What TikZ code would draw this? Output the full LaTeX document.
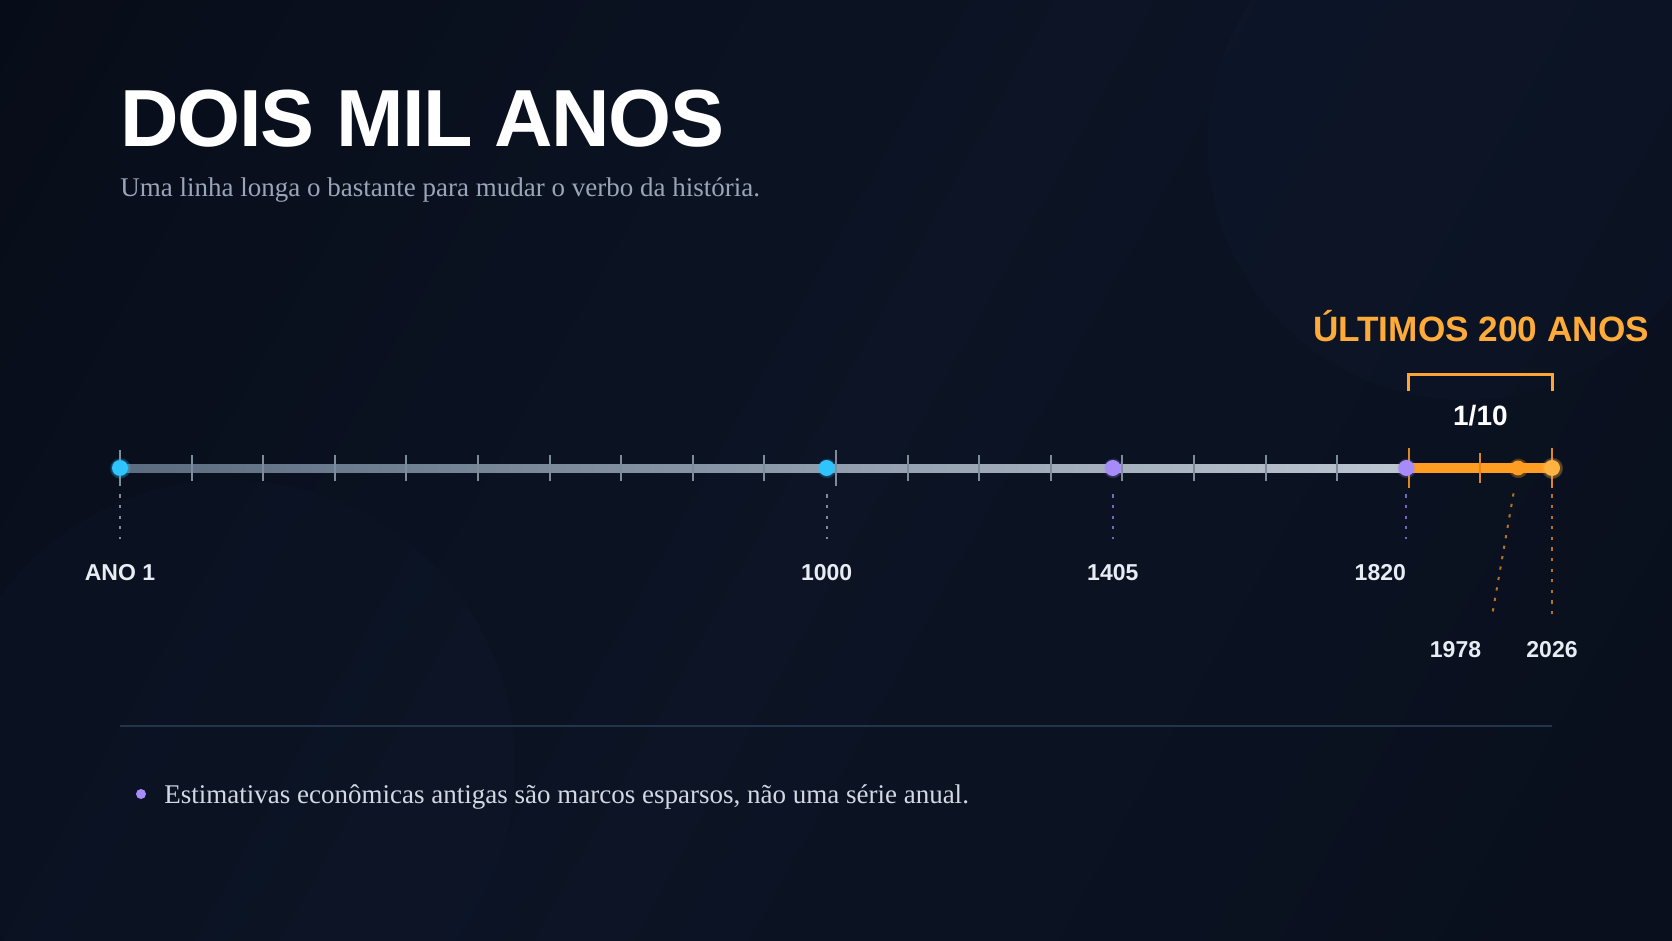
\documentclass[tikz,border=0pt]{standalone}
\usepackage{fontspec}
\setmainfont{Liberation Serif}
\newfontfamily\headfont{Liberation Sans}
\usetikzlibrary{positioning, shadows, fadings}
\definecolor{bgdark}{HTML}{050912}
\definecolor{bgmid}{HTML}{0C1425}
\definecolor{bgend}{HTML}{070C17}
\definecolor{blob}{HTML}{13203A}
\definecolor{subtext}{HTML}{9AA5B8}
\definecolor{notetext}{HTML}{D3D9E3}
\definecolor{labeltext}{HTML}{E8EDF4}
\definecolor{axisleft}{HTML}{5B6B80}
\definecolor{axisright}{HTML}{BCC6D1}
\definecolor{tickgray}{HTML}{7D8B9C}
\definecolor{accent}{HTML}{FF9D22}
\definecolor{accentdark}{HTML}{DE8620}
\definecolor{accenttext}{HTML}{FFAB3A}
\definecolor{dotcyan}{HTML}{2EC5FF}
\definecolor{dotviolet}{HTML}{A78BFA}
\definecolor{dotgold}{HTML}{FFB442}
\definecolor{sepline}{HTML}{24344A}
\pgfdeclarehorizontalshading{bgshade}{100bp}{color(0bp)=(bgdark); color(50bp)=(bgmid); color(100bp)=(bgend)}
\tikzstyle{dot} = [circle, inner sep=0pt, minimum size=8pt]
\tikzstyle{yearlabel} = [anchor=base, inner sep=0pt, text=labeltext, font=\headfont\bfseries\fontsize{11.5}{13}\selectfont]
\tikzstyle{dropline} = [line width=1pt, dash pattern=on 1.6pt off 3.7pt, shorten <=9pt]
\tikzstyle{tick} = [line width=1pt, tickgray]
\tikzstyle{atick} = [line width=1pt, accentdark]

\begin{document}
\begin{tikzpicture}[x=0.5pt, y=-0.5pt]
\useasboundingbox (0,0) rectangle (1672,941);
% Background
\shade[shading=bgshade, shading angle=-29] (0,0) rectangle (1672,941);
\fill[blob, opacity=0.18] (1465,143) circle (257);
\fill[blob, opacity=0.15] (230,765) circle (285);

% Heading
\node (title) [anchor=base west, inner sep=0pt, text=white, font=\headfont\bfseries\fontsize{40.5}{44}\selectfont\addfontfeature{LetterSpace=-1.5}] at (120,147) {DOIS MIL ANOS};
\node (subtitle) [anchor=base west, inner sep=0pt, text=subtext, font=\fontsize{13.5}{15}\selectfont] at (120,197) {Uma linha longa o bastante para mudar o verbo da história.};

% Axis
\fill[left color=axisleft, right color=axisright] (120,464) rectangle (1406,472);
\fill[accent] (1406,462.5) rectangle (1552,473);
\foreach \k in {1,...,9,11,12,...,17}
  \draw[tick] (120+\k*71.6,455) -- (120+\k*71.6,481);
\foreach \k in {0,10}
  \draw[tick] (120+\k*71.6,450) -- (120+\k*71.6,486);
\foreach \k in {18,20}
  \draw[atick] (120+\k*71.6,448.5) -- (120+\k*71.6,487.5);
\draw[atick] (1480.4,453) -- (1480.4,483);

% Milestones
\node (d1) [dot, fill=dotcyan, circular glow={fill=dotcyan, opacity=0.3, shadow scale=1.35}] at (120,468) {};
\node (d1000) [dot, fill=dotcyan, circular glow={fill=dotcyan, opacity=0.25, shadow scale=1.3}] at (826.7,468) {};
\node (d1405) [dot, fill=dotviolet, circular glow={fill=dotviolet, opacity=0.25, shadow scale=1.3}] at (1112.8,468) {};
\node (d1820) [dot, fill=dotviolet, circular glow={fill=dotviolet, opacity=0.25, shadow scale=1.3}] at (1406.3,468) {};
\node (d1978) [dot, minimum size=7.4pt, fill=accent, circular glow={fill=accent, opacity=0.35, shadow scale=1.4}] at (1518,468) {};
\node (d2026) [dot, fill=dotgold, circular glow={fill=dotgold, opacity=0.35, shadow scale=1.4}] at (1552,468) {};

% Labels
\node (l1) [yearlabel] at (120,580) {ANO 1};
\node (l1000) [yearlabel] at (826.7,580) {1000};
\node (l1405) [yearlabel] at (1112.8,580) {1405};
\node (l1820) [yearlabel, anchor=base east] at (1406.3,580) {1820};
\node (l1978) [yearlabel] at (1455.5,657) {1978};
\node (l2026) [yearlabel] at (1552,657) {2026};

% Drop lines
\coordinate (e1) at (120,539);
\coordinate (e1000) at (826.7,539);
\coordinate (e1405) at (1112.8,539);
\coordinate (e1820) at (1406.3,539);
\coordinate (e1978) at (1492,616);
\coordinate (e2026) at (1552,616);
\draw[dropline, tickgray] (d1) -- (e1);
\draw[dropline, tickgray] (d1000) -- (e1000);
\draw[dropline, dotviolet!70!bgmid] (d1405) -- (e1405);
\draw[dropline, dotviolet!70!bgmid] (d1820) -- (e1820);
\draw[dropline, accent!70!bgmid] (d1978) -- (e1978);
\draw[dropline, accent!70!bgmid] (d2026) -- (e2026);

% Last 200 years
\coordinate (b1) at (1408.3,391);
\coordinate (b2) at (1552.5,391);
\draw[line width=1.3pt, accent!92!white] (b1) -- (b1 |- 0,374.5) -- (b2 |- 0,374.5) -- (b2);
\node (frac) [anchor=base, inner sep=0pt, text=white, font=\headfont\bfseries\fontsize{14}{16}\selectfont] at (1480.4,426) {1/10};
\node (recent) [anchor=base, inner sep=0pt, text=accenttext, font=\headfont\bfseries\fontsize{17.6}{20}\selectfont] at (1481,341.7) {ÚLTIMOS 200 ANOS};

% Note
\draw[line width=0.6pt, sepline] (120,726) -- (1552,726);
\node (bullet) [circle, inner sep=0pt, minimum size=5pt, fill=dotviolet] at (141,794) {};
\node (note) [anchor=base west, inner sep=0pt, text=notetext, font=\fontsize{13.5}{15}\selectfont] at (164,803) {Estimativas econômicas antigas são marcos esparsos, não uma série anual.};
\end{tikzpicture}
\end{document}
